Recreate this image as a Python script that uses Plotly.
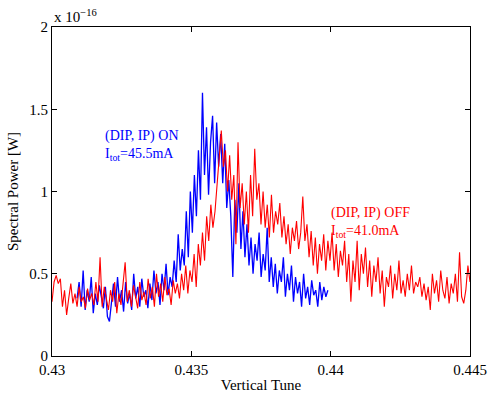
import numpy as np
import plotly.graph_objects as go

# Red: (DIP, IP) OFF, tune 0.430..0.445
red_x_start, red_x_end = 0.430, 0.445
red_y = [
    0.33, 0.45, 0.49, 0.44, 0.47, 0.30, 0.40, 0.25, 0.35, 0.44, 0.32, 0.38,
    0.30, 0.42, 0.33, 0.36, 0.29, 0.41, 0.34, 0.38, 0.31, 0.45, 0.33, 0.60,
    0.30, 0.42, 0.35, 0.28, 0.40, 0.33, 0.45, 0.26, 0.38, 0.31, 0.44, 0.57,
    0.33, 0.40, 0.30, 0.43, 0.36, 0.29, 0.45, 0.34, 0.39, 0.31, 0.47, 0.35,
    0.42, 0.30, 0.50, 0.36, 0.44, 0.33, 0.48, 0.37, 0.41, 0.31, 0.46, 0.38,
    0.44, 0.35, 0.50, 0.40, 0.55, 0.38, 0.52, 0.45, 0.62, 0.42, 0.68, 0.55,
    0.75, 0.58, 0.85, 0.70, 0.92, 0.78, 0.88, 1.05, 1.20, 1.37, 1.15, 1.25,
    1.00, 1.22, 0.95, 1.10, 0.68, 1.30, 0.90, 1.05, 0.80, 1.00, 0.75, 1.10,
    0.85, 1.26, 0.95, 1.05, 0.80, 1.00, 0.78, 0.92, 0.72, 0.98, 0.75, 0.88,
    0.80, 0.93, 0.72, 0.85, 0.68, 0.80, 0.62, 0.78, 0.70, 0.82, 0.65, 0.75,
    0.97, 0.70, 0.80, 0.60, 0.76, 0.55, 0.72, 0.50, 0.68, 0.58, 0.74, 0.52,
    0.70, 0.58, 0.75, 0.52, 0.68, 0.48, 0.64, 0.55, 0.70, 0.45, 0.62, 0.33,
    0.58, 0.45, 0.70, 0.40, 0.62, 0.50, 0.66, 0.42, 0.58, 0.36, 0.55, 0.45,
    0.60, 0.38, 0.52, 0.30, 0.48, 0.42, 0.55, 0.35, 0.50, 0.40, 0.58, 0.38,
    0.46, 0.36, 0.50, 0.40, 0.55, 0.38, 0.45, 0.42, 0.48, 0.36, 0.44, 0.34,
    0.42, 0.28, 0.50, 0.38, 0.46, 0.33, 0.52, 0.40, 0.35, 0.48, 0.32, 0.44,
    0.38, 0.50, 0.33, 0.63, 0.36, 0.32, 0.40, 0.55, 0.45,
]

# Blue: (DIP, IP) ON, tune 0.4309..0.4399
blue_x_start, blue_x_end = 0.4309, 0.4399
blue_y = [
    0.35, 0.45, 0.30, 0.52, 0.28, 0.40, 0.33, 0.48, 0.26, 0.38, 0.31, 0.43,
    0.36, 0.29, 0.42, 0.24, 0.21, 0.35, 0.44, 0.30, 0.48, 0.33, 0.40, 0.27,
    0.45, 0.32, 0.38, 0.28, 0.50, 0.35, 0.42, 0.30, 0.47, 0.36, 0.40, 0.29,
    0.44, 0.34, 0.52, 0.38, 0.45, 0.31, 0.50, 0.40, 0.56, 0.37, 0.48, 0.42,
    0.58, 0.45, 0.74, 0.52, 0.65, 0.55, 0.88, 0.60, 1.00, 0.75, 1.10, 0.85,
    1.25, 0.95, 1.60, 1.10, 1.39, 0.98, 1.30, 1.46, 1.05, 1.42, 1.15, 1.35,
    1.05, 1.29, 0.90, 1.07, 0.85, 0.48, 0.95, 0.75, 1.05, 0.65, 0.88, 0.60,
    0.80, 0.55, 0.72, 0.50, 0.68, 0.58, 0.75, 0.48, 0.62, 0.52, 0.78, 0.45,
    0.60, 0.42, 0.56, 0.38, 0.52, 0.45, 0.60, 0.36, 0.50, 0.40, 0.55, 0.33,
    0.48, 0.38, 0.45, 0.30, 0.50, 0.35, 0.42, 0.31, 0.46, 0.37, 0.40, 0.30,
    0.45, 0.34, 0.42, 0.36, 0.40,
]

x_ticks = [0.43, 0.435, 0.44, 0.445]
x_tick_labels = ["0.43", "0.435", "0.44", "0.445"]
y_ticks = [0, 0.5, 1, 1.5, 2]
y_tick_labels = ["0", "0.5", "1", "1.5", "2"]

red_x = np.linspace(red_x_start, red_x_end, len(red_y))
blue_x = np.linspace(blue_x_start, blue_x_end, len(blue_y))

FONT = "Liberation Serif, Times New Roman, serif"

fig = go.Figure()
fig.add_trace(go.Scatter(x=blue_x, y=blue_y, mode="lines",
                         line=dict(color="#0000ff", width=1.3), showlegend=False))
fig.add_trace(go.Scatter(x=red_x, y=red_y, mode="lines",
                         line=dict(color="#ff0000", width=1.1), showlegend=False))

axis_common = dict(showline=True, linecolor="black", linewidth=1.2, mirror="allticks",
                   ticks="inside", ticklen=5, tickcolor="black", showgrid=False,
                   zeroline=False, automargin=False, ticklabeloverflow="allow",
                   tickfont=dict(family=FONT, size=15, color="black"))

fig.update_layout(
    width=488, height=401,
    margin=dict(l=52, r=18, t=27, b=45),
    paper_bgcolor="white", plot_bgcolor="white",
    font=dict(family=FONT, color="black"),
    hovermode=False,
    xaxis=dict(range=[0.43, 0.445], tickvals=x_ticks, ticktext=x_tick_labels,
               title=dict(text="Vertical Tune", font=dict(family=FONT, size=15), standoff=2),
               **axis_common),
    yaxis=dict(range=[0, 2], tickvals=y_ticks, ticktext=y_tick_labels,
               title=dict(text="Spectral Power [W]", font=dict(family=FONT, size=15), standoff=6),
               **axis_common),
)

fig.add_annotation(xref="paper", yref="paper", x=0.0, y=1.0, xanchor="left", yanchor="bottom",
                   text="x 10<sup>−16</sup>", showarrow=False,
                   font=dict(family=FONT, size=15, color="black"), yshift=0)
fig.add_annotation(xref="x", yref="y", x=0.43183, y=1.4, xanchor="left", yanchor="top",
                   text="(DIP, IP) ON<br>I<sub>tot</sub>=45.5mA", showarrow=False, align="left",
                   font=dict(family=FONT, size=14, color="#0000ff"))
fig.add_annotation(xref="x", yref="y", x=0.43995, y=0.93, xanchor="left", yanchor="top",
                   text="(DIP, IP) OFF<br>I<sub>tot</sub>=41.0mA", showarrow=False, align="left",
                   font=dict(family=FONT, size=14, color="#ff0000"))

# remove the page's default 8px body margin so the figure sits at the window's corner
fig.write_html("out.html", config={"displayModeBar": False},
               post_script="document.body.style.margin='0';document.body.style.overflow='hidden';")
